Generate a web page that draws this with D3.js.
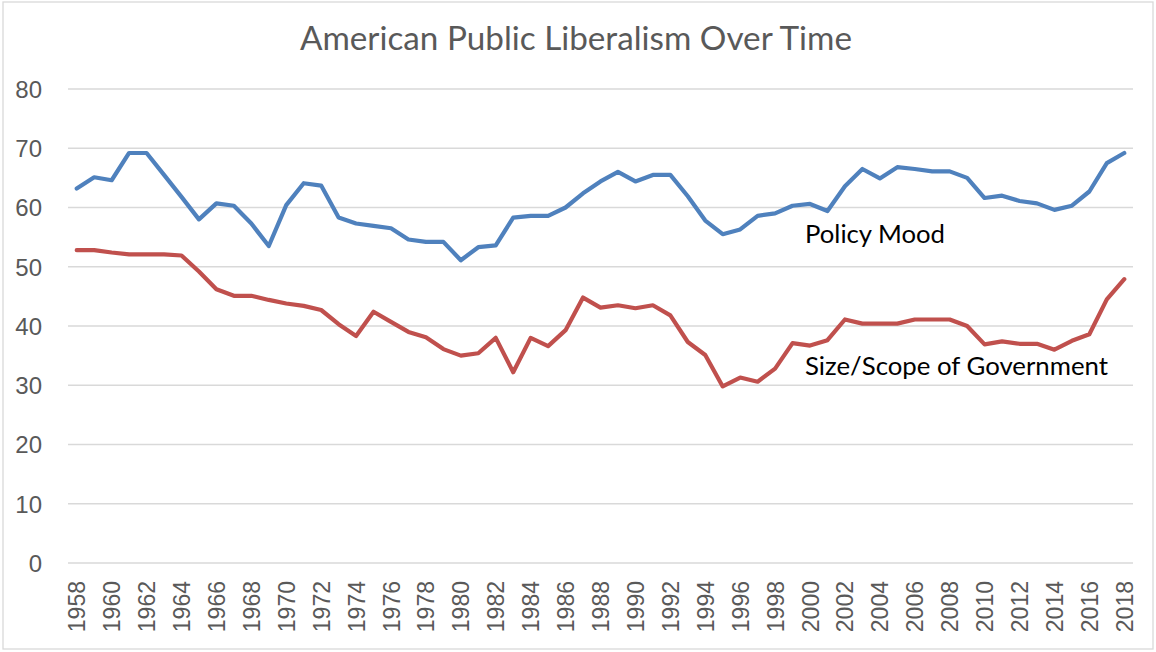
<!DOCTYPE html>
<html>
<head>
<meta charset="utf-8">
<script src="https://cdn.jsdelivr.net/npm/d3@7"></script>
<style>
html,body{margin:0;padding:0;background:#fff;}
svg{display:block;}
</style>
</head>
<body>
<svg id="chart" width="1156" height="652"></svg>
<script>
const title = "American Public Liberalism Over Time";
const years = [1958,1959,1960,1961,1962,1963,1964,1965,1966,1967,
  1968,1969,1970,1971,1972,1973,1974,1975,1976,1977,
  1978,1979,1980,1981,1982,1983,1984,1985,1986,1987,
  1988,1989,1990,1991,1992,1993,1994,1995,1996,1997,
  1998,1999,2000,2001,2002,2003,2004,2005,2006,2007,
  2008,2009,2010,2011,2012,2013,2014,2015,2016,2017,2018];
const policyMood = [63.2,65.1,64.6,69.2,69.2,65.5,61.8,58.0,60.7,60.3,
  57.3,53.5,60.4,64.1,63.7,58.3,57.3,56.9,56.5,54.6,
  54.2,54.2,51.1,53.3,53.6,58.3,58.6,58.6,60.0,62.4,
  64.4,66.0,64.4,65.5,65.5,61.9,57.8,55.5,56.3,58.6,
  59.0,60.3,60.6,59.4,63.6,66.5,64.9,66.8,66.5,66.1,
  66.1,65.0,61.6,62.0,61.1,60.7,59.6,60.3,62.7,67.5,69.2];
const sizeScope = [52.8,52.8,52.4,52.1,52.1,52.1,51.9,49.2,46.2,45.1,
  45.1,44.4,43.8,43.4,42.7,40.3,38.3,42.4,40.7,39.0,
  38.1,36.1,35.0,35.4,38.0,32.2,38.0,36.6,39.3,44.8,
  43.1,43.5,43.0,43.5,41.8,37.3,35.1,29.8,31.3,30.6,
  32.8,37.1,36.7,37.6,41.1,40.4,40.4,40.4,41.1,41.1,
  41.1,40.0,36.9,37.4,37.0,37.0,36.0,37.5,38.6,44.5,47.9];
const seriesNames = ["Policy Mood", "Size/Scope of Government"];
const seriesColors = ["#4F81BD", "#C0504D"];
const yTicks = [0,10,20,30,40,50,60,70,80];
const xTickLabels = years.filter(y => y % 2 === 0);

const svg = d3.select("#chart");

// chart frame
svg.append("rect").attr("x",3).attr("y",2).attr("width",1150).attr("height",647)
  .attr("fill","#fff").attr("stroke","#d9d9d9").attr("stroke-width",1.3);

const x = d3.scalePoint().domain(years).range([68,1133]).padding(0.5);
const y = d3.scaleLinear().domain([0,80]).range([563,89]);

// gridlines
svg.append("g").selectAll("line").data(yTicks).join("line")
  .attr("x1",68).attr("x2",1133)
  .attr("y1",d=>y(d)).attr("y2",d=>y(d))
  .attr("stroke","#d9d9d9").attr("stroke-width",1.4);

// y axis labels
const yAxis = d3.axisLeft(y).tickValues(yTicks).tickSize(0).tickPadding(0);
const yg = svg.append("g").attr("transform","translate(42,0)").call(yAxis);
yg.select(".domain").remove();
yg.selectAll("text").attr("font-family","'Liberation Sans', Arial, sans-serif")
  .attr("font-size",24).attr("fill","#595959").attr("dy","0.35em");

// x axis labels
const xAxis = d3.axisBottom(x).tickValues(xTickLabels).tickSize(0).tickPadding(0);
const xg = svg.append("g").attr("transform","translate(0,581)").call(xAxis);
xg.select(".domain").remove();
xg.selectAll("text")
  .attr("font-family","'Liberation Sans', Arial, sans-serif")
  .attr("font-size",23).attr("fill","#595959")
  .attr("transform","rotate(-90)")
  .attr("text-anchor","end")
  .attr("x",0).attr("y",0).attr("dx",0).attr("dy","0.35em");

// lines
const line = d3.line().x((d,i)=>x(years[i])).y(d=>y(d));
[policyMood, sizeScope].forEach((vals,i)=>{
  svg.append("path").datum(vals).attr("d",line)
    .attr("fill","none").attr("stroke",seriesColors[i])
    .attr("stroke-width",4.2).attr("stroke-linejoin","round").attr("stroke-linecap","round");
});

// series labels
svg.append("text").attr("x",805).attr("y",243).text(seriesNames[0])
  .attr("font-family","Lato, 'Open Sans', sans-serif").attr("font-size",25)
  .attr("fill","#000").attr("textLength",140).attr("lengthAdjust","spacingAndGlyphs");
svg.append("text").attr("x",805).attr("y",375).text(seriesNames[1])
  .attr("font-family","Lato, 'Open Sans', sans-serif").attr("font-size",25)
  .attr("fill","#000").attr("textLength",303).attr("lengthAdjust","spacingAndGlyphs");

// title
svg.append("text").attr("x",300).attr("y",50).text(title)
  .attr("font-family","Lato, 'Open Sans', sans-serif").attr("font-weight",400)
  .attr("font-size",33).attr("fill","#595959")
  .attr("textLength",552).attr("lengthAdjust","spacingAndGlyphs");
</script>
</body>
</html>
